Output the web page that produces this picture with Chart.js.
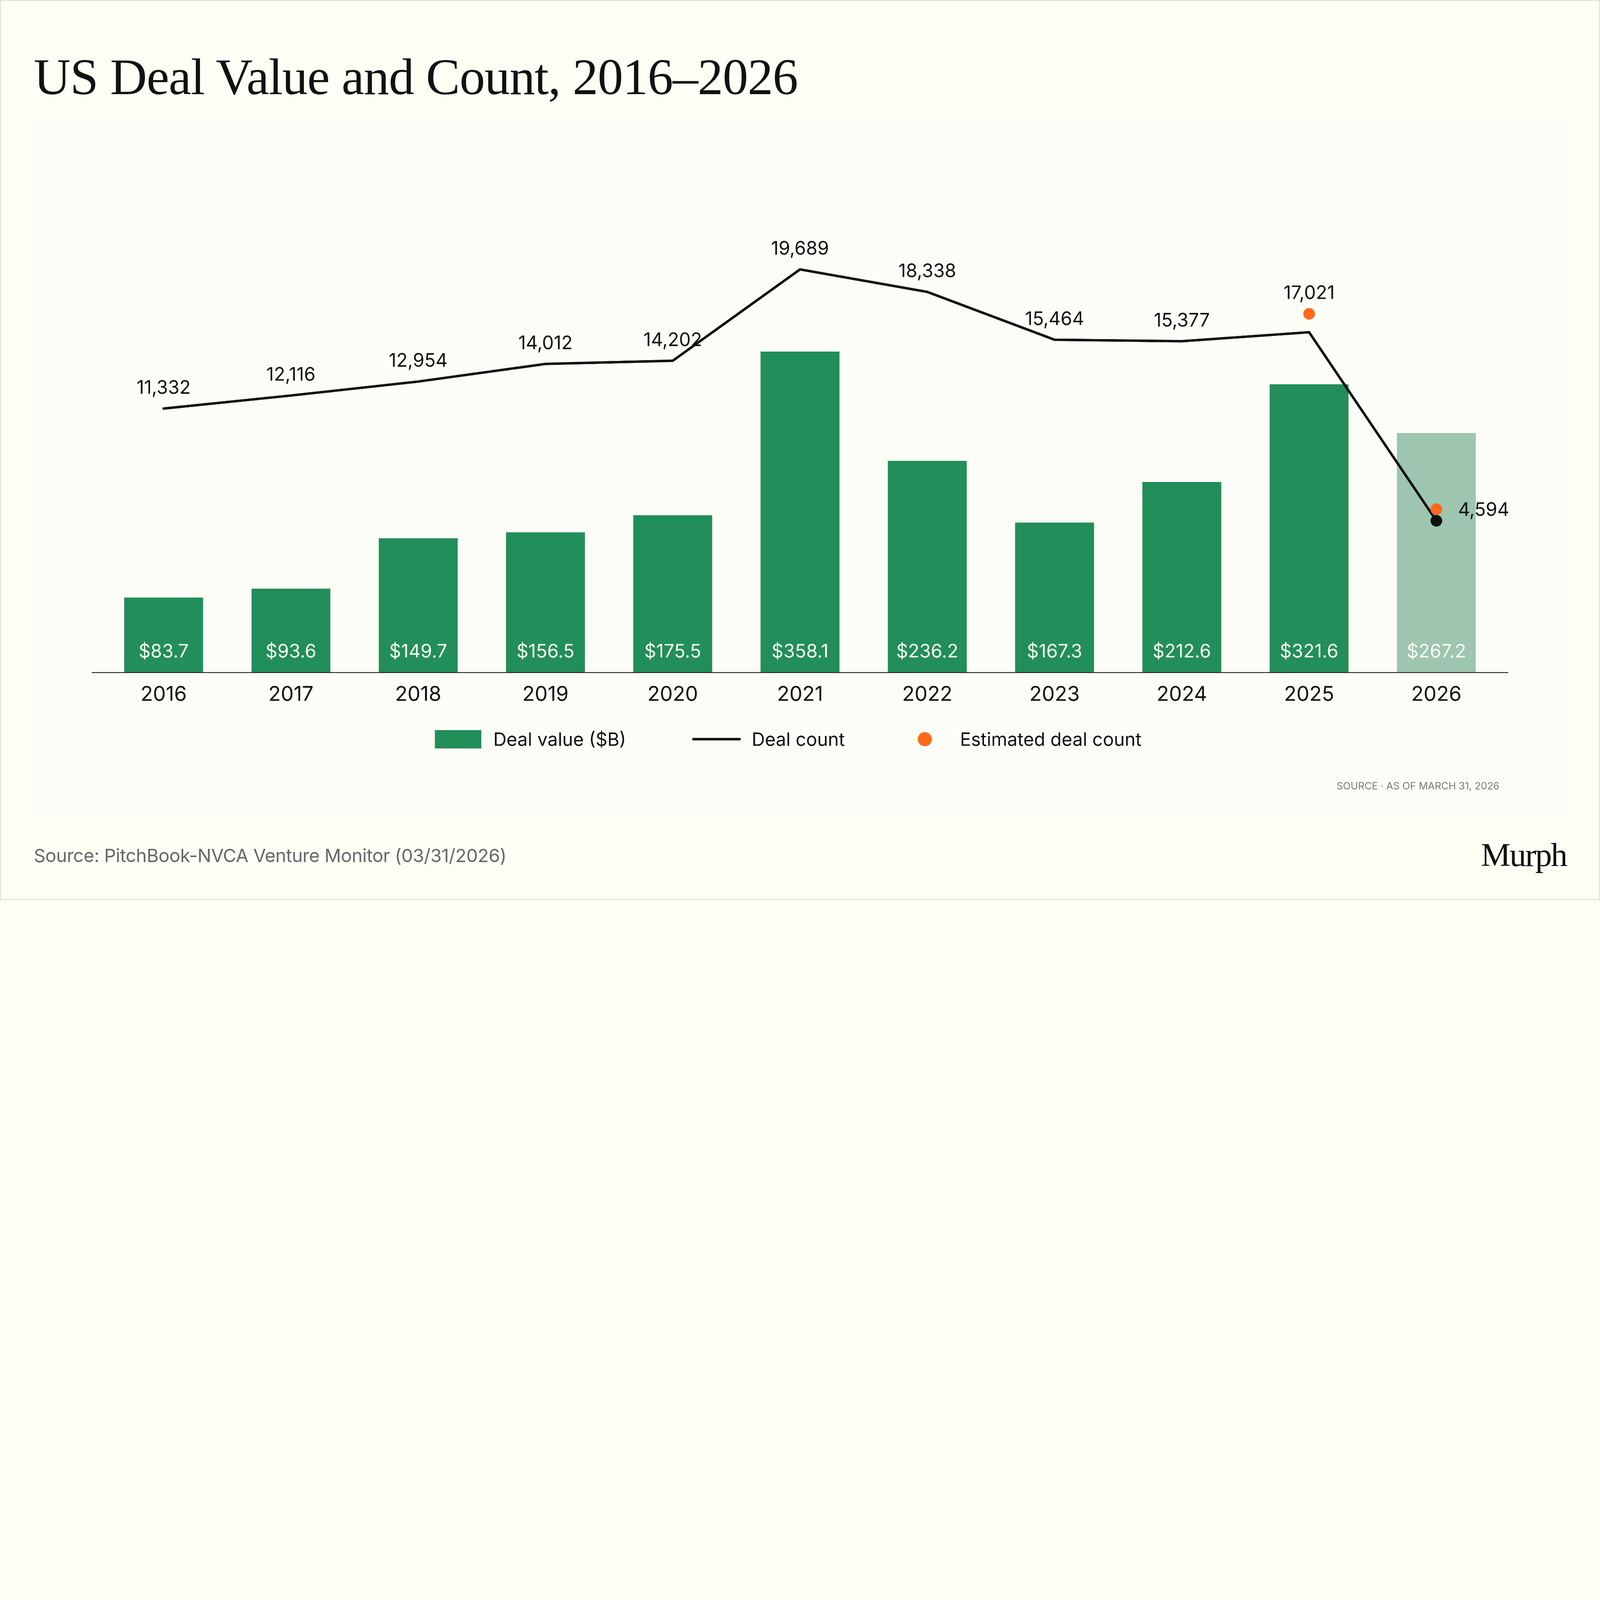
<!DOCTYPE html>
<html>
<head>
<meta charset="utf-8">
<script src="https://cdn.jsdelivr.net/npm/chart.js@4.4.1/dist/chart.umd.min.js"></script>
<style>
  html, body { margin: 0; padding: 0; background: #FEFEF5; overflow: hidden; }
  #page { position: absolute; left: 0; top: 0; width: 7680px; height: 4320px; background: #FEFEF5; overflow: hidden; transform-origin: 0 0; }
  #panel { position: absolute; left: 161px; top: 588px; width: 7358px; height: 3330px; background: #FDFDF7; }
  #frame { position: absolute; left: 0; top: 0; width: 7680px; height: 4320px; box-sizing: border-box; border: 5px solid #E3E3D9; pointer-events: none; }
  .txt { position: absolute; white-space: nowrap; margin: 0; }
  #title { left: 162px; top: 247px; font-family: "Liberation Serif", serif; font-size: 245px; line-height: 245px; letter-spacing: -2.5px; color: #111111; font-weight: 400; }
  #source { left: 162px; top: 4062px; font-family: Inter, sans-serif; font-size: 88px; line-height: 88px; letter-spacing: -0.8px; color: #676767; }
  #asof { right: 483px; top: 3748px; font-family: Inter, sans-serif; font-size: 48px; line-height: 48px; color: #7B7B72; }
  #logo { right: 161px; top: 4022px; font-family: "Liberation Serif", serif; font-size: 160px; line-height: 160px; letter-spacing: -5px; color: #111111; }
  #chart { position: absolute; left: 0; top: 0; width: 7680px; height: 4320px; }
</style>
</head>
<body>
<div id="page">
  <div id="panel"></div>
  <canvas id="chart" width="7680" height="4320"></canvas>
  <div class="txt" id="title">US Deal Value and Count, 2016–2026</div>
  <div class="txt" id="asof">SOURCE · AS OF MARCH 31, 2026</div>
  <div class="txt" id="source">Source: PitchBook-NVCA Venture Monitor (03/31/2026)</div>
  <div class="txt" id="logo">Murph</div>
  <div id="frame"></div>
</div>
<script>
// ---- data ----
const years = ['2016', '2017', '2018', '2019', '2020', '2021', '2022', '2023', '2024', '2025', '2026'];
const dealValue = [83.7, 93.6, 149.7, 156.5, 175.5, 358.1, 236.2, 167.3, 212.6, 321.6, 267.2];
const dealCount = [11332, 12116, 12954, 14012, 14202, 19689, 18338, 15464, 15377, 15916, 4594];
const estimatedCount = [null, null, null, null, null, null, null, null, null, 17021, 5290];
const seriesNames = ['Deal value ($B)', 'Deal count', 'Estimated deal count'];

// ---- page scaling to the available window ----
(function fit() {
  const s = Math.min(window.innerWidth / 7680, window.innerHeight / 4320) || 1;
  document.getElementById('page').style.transform = 'scale(' + s + ')';
})();

// ---- styles ----
const GREEN = '#228E5A';
const GREEN_LIGHT = '#9DC5AF';
const INK = '#111111';
const ORANGE = '#FF6A1A';
const LABEL_WHITE = '#FFFFF4';
const FONT = 'Inter';
const LAST = years.length - 1;
const fmt = v => v.toLocaleString('en-US');

const axisLinePlugin = {
  id: 'axisLine',
  afterDatasetsDraw(chart) {
    const { ctx, chartArea } = chart;
    const y0 = chart.scales.y.getPixelForValue(0);
    ctx.save();
    ctx.strokeStyle = '#1E1E1E';
    ctx.lineWidth = 4;
    ctx.beginPath();
    ctx.moveTo(chartArea.left - 40, y0);
    ctx.lineTo(chartArea.right + 40, y0);
    ctx.stroke();
    ctx.restore();
  }
};

const valueLabelPlugin = {
  id: 'valueLabels',
  afterDatasetsDraw(chart) {
    const ctx = chart.ctx;
    const barMeta = chart.getDatasetMeta(0);
    const lineMeta = chart.getDatasetMeta(1);
    const estMeta = chart.getDatasetMeta(2);
    const y0 = chart.scales.y.getPixelForValue(0);
    ctx.save();
    ctx.font = `400 89px ${FONT}`;
    ctx.textBaseline = 'alphabetic';
    ctx.textAlign = 'center';
    ctx.fillStyle = LABEL_WHITE;
    barMeta.data.forEach((bar, i) => {
      ctx.fillText('$' + dealValue[i].toFixed(1), bar.x, y0 - 72);
    });
    ctx.fillStyle = INK;
    lineMeta.data.forEach((pt, i) => {
      const est = estimatedCount[i];
      if (est === null) {
        ctx.textAlign = 'center';
        ctx.fillText(fmt(dealCount[i]), pt.x, pt.y - 71);
      } else if (i < LAST) {
        const e = estMeta.data[i];
        ctx.textAlign = 'center';
        ctx.fillText(fmt(est), e.x, e.y - 71);
      } else {
        const e = estMeta.data[i];
        ctx.textAlign = 'left';
        ctx.fillText(fmt(dealCount[i]), e.x + 104, e.y + 32);
      }
    });
    ctx.restore();
  }
};

const legendPlugin = {
  id: 'customLegend',
  afterDraw(chart) {
    const { ctx, chartArea } = chart;
    const ds = chart.data.datasets;
    const items = [
      { kind: 'box', d: ds[0] },
      { kind: 'line', d: ds[1] },
      { kind: 'dot', d: ds[2] }
    ];
    ctx.save();
    ctx.font = `400 88px ${FONT}`;
    const slot = 228, gapText = 55, gaps = [320, 270];
    const widths = items.map(it => slot + gapText + ctx.measureText(it.d.label).width);
    const total = widths.reduce((a, b) => a + b, 0) + gaps.reduce((a, b) => a + b, 0);
    let x = (chartArea.left + chartArea.right) / 2 - 58 - total / 2;
    const cy = chartArea.bottom + 320;
    items.forEach((it, i) => {
      const c = x + slot / 2;
      if (it.kind === 'box') {
        ctx.fillStyle = it.d.backgroundColor[0];
        ctx.fillRect(c - 111.5, cy - 44, 223, 88);
      } else if (it.kind === 'line') {
        ctx.strokeStyle = it.d.borderColor;
        ctx.lineWidth = 12;
        ctx.lineCap = 'round';
        ctx.beginPath();
        ctx.moveTo(c - 111, cy);
        ctx.lineTo(c + 111, cy);
        ctx.stroke();
      } else {
        ctx.fillStyle = it.d.pointBackgroundColor;
        ctx.beginPath();
        ctx.arc(c, cy, 34, 0, Math.PI * 2);
        ctx.fill();
      }
      ctx.fillStyle = INK;
      ctx.textAlign = 'left';
      ctx.textBaseline = 'alphabetic';
      ctx.fillText(it.d.label, x + slot + gapText, cy + 32);
      x += widths[i] + (gaps[i] || 0);
    });
    ctx.restore();
  }
};

function build() {
  new Chart(document.getElementById('chart'), {
    data: {
      labels: years,
      datasets: [
        { type: 'bar', label: seriesNames[0], data: dealValue, yAxisID: 'y',
          backgroundColor: dealValue.map((v, i) => i === LAST ? GREEN_LIGHT : GREEN),
          borderWidth: 0, barPercentage: 0.62, categoryPercentage: 1, order: 3 },
        { type: 'line', label: seriesNames[1], data: dealCount, yAxisID: 'y1',
          borderColor: INK, borderWidth: 12, tension: 0, borderCapStyle: 'round', borderJoinStyle: 'miter',
          pointRadius: c => c.dataIndex === LAST ? 28 : 0, pointHoverRadius: c => c.dataIndex === LAST ? 28 : 0,
          pointBackgroundColor: INK, pointBorderWidth: 0, fill: false, order: 2 },
        { type: 'line', label: seriesNames[2], data: estimatedCount, yAxisID: 'y1', showLine: false,
          pointRadius: 28, pointHoverRadius: 28, pointBackgroundColor: ORANGE, pointBorderWidth: 0,
          borderColor: ORANGE, order: 1 }
      ]
    },
    options: {
      responsive: false,
      devicePixelRatio: 1,
      animation: false,
      events: [],
      layout: { padding: { left: 480, right: 480, top: 1000, bottom: 942 } },
      plugins: { legend: { display: false }, tooltip: { enabled: false } },
      scales: {
        x: { grid: { display: false, drawTicks: false }, border: { display: false },
             ticks: { font: { family: FONT, size: 98 }, color: INK, padding: 48 },
             afterFit: s => { s.height = 150; } },
        y: { display: false, min: 0, max: 517.9 },
        y1: { display: false, min: -4519, max: 23355, position: 'right' }
      }
    },
    plugins: [axisLinePlugin, valueLabelPlugin, legendPlugin]
  });
}
build();
</script>
</body>
</html>
